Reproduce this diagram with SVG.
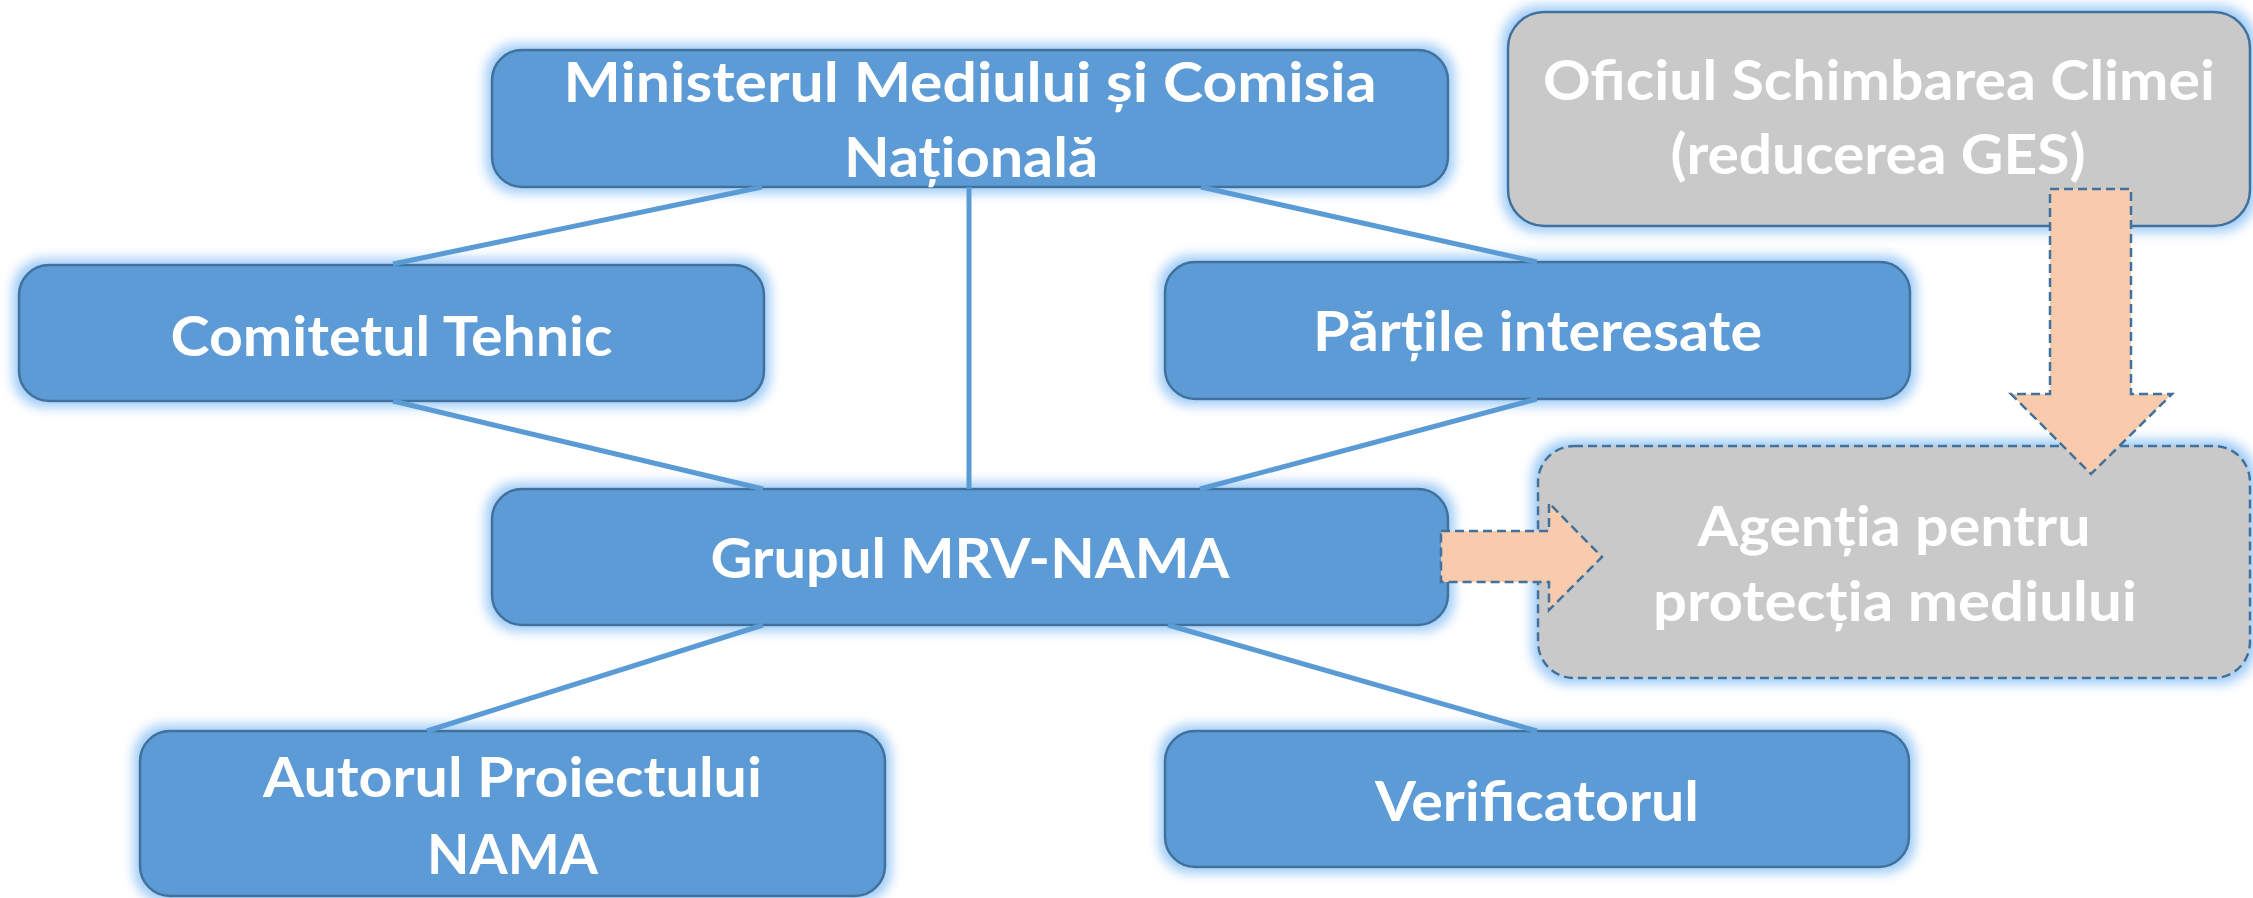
<svg xmlns="http://www.w3.org/2000/svg" width="2253" height="898" viewBox="0 0 2253 898">
<style>
.box{fill:#5B9BD5;stroke:#41719C;stroke-width:2.5;filter:url(#glow)}
.gray{fill:#C9C9C9;stroke:#41719C;stroke-width:2.5;filter:url(#glow)}
.dash{stroke-dasharray:9 5}
.t{font-family:Lato,"Open Sans","Liberation Sans",sans-serif;font-weight:bold;font-size:56px;fill:#FFFFFF;text-anchor:middle}
.ln{stroke:#5B9BD5;stroke-width:5;fill:none}
.arr{fill:#F8CBAD;stroke:#41719C;stroke-width:2.5;stroke-dasharray:9 5}
</style>
<defs>
<filter id="glow" x="-10%" y="-20%" width="120%" height="140%">
<feMorphology in="SourceAlpha" operator="dilate" radius="5" result="d"/>
<feGaussianBlur in="d" stdDeviation="6" result="b"/>
<feFlood flood-color="#9ECBF7"/>
<feComposite in2="b" operator="in" result="g"/>
<feMerge><feMergeNode in="g"/><feMergeNode in="SourceGraphic"/></feMerge>
</filter>
</defs>
<rect width="2253" height="898" fill="#FFFFFF"/>
<g id="ministerul">
<rect class="box" x="492" y="50" width="956" height="137" rx="30"/>
<text class="t" x="970" y="102" textLength="813" lengthAdjust="spacingAndGlyphs">Ministerul Mediului și Comisia</text>
<text class="t" x="971" y="177" textLength="254" lengthAdjust="spacingAndGlyphs">Națională</text>
</g>
<g id="oficiul">
<rect class="gray" x="1508" y="12" width="742" height="214" rx="36"/>
<text class="t" x="1879" y="100" textLength="672" lengthAdjust="spacingAndGlyphs">Oficiul Schimbarea Climei</text>
<text class="t" x="1878" y="174" textLength="415" lengthAdjust="spacingAndGlyphs">(reducerea GES)</text>
</g>
<g id="comitetul">
<rect class="box" x="19" y="265" width="745" height="136" rx="30"/>
<text class="t" x="391.5" y="356" textLength="442" lengthAdjust="spacingAndGlyphs">Comitetul Tehnic</text>
</g>
<g id="partile">
<rect class="box" x="1165" y="262" width="745" height="137" rx="30"/>
<text class="t" x="1537.5" y="351" textLength="449" lengthAdjust="spacingAndGlyphs">Părțile interesate</text>
</g>
<g id="grupul">
<rect class="box" x="492" y="489" width="956" height="136" rx="30"/>
<text class="t" x="970" y="578" textLength="519" lengthAdjust="spacingAndGlyphs">Grupul MRV-NAMA</text>
</g>
<g id="agentia">
<rect class="gray dash" x="1538" y="446" width="712" height="232" rx="36"/>
<text class="t" x="1894" y="546" textLength="393" lengthAdjust="spacingAndGlyphs">Agenția pentru</text>
<text class="t" x="1895" y="621" textLength="484" lengthAdjust="spacingAndGlyphs">protecția mediului</text>
</g>
<g id="autorul">
<rect class="box" x="140" y="731" width="745" height="165" rx="30"/>
<text class="t" x="512.5" y="797" textLength="499" lengthAdjust="spacingAndGlyphs">Autorul Proiectului</text>
<text class="t" x="512.5" y="874" textLength="171" lengthAdjust="spacingAndGlyphs">NAMA</text>
</g>
<g id="verificatorul">
<rect class="box" x="1165" y="731" width="744" height="136" rx="30"/>
<text class="t" x="1537" y="821" textLength="324" lengthAdjust="spacingAndGlyphs">Verificatorul</text>
</g>
<g id="connectors">
<line class="ln" x1="762" y1="187" x2="393" y2="264"/>
<line class="ln" x1="969" y1="187" x2="969" y2="489"/>
<line class="ln" x1="1201" y1="187" x2="1537" y2="262"/>
<line class="ln" x1="393" y1="401" x2="763" y2="489"/>
<line class="ln" x1="1537" y1="399" x2="1200" y2="489"/>
<line class="ln" x1="763" y1="625" x2="427" y2="731"/>
<line class="ln" x1="1168" y1="625" x2="1537" y2="731"/>
<polygon class="arr" points="2050,189 2131,189 2131,394 2172,394 2091,474 2011,394 2050,394"/>
<polygon class="arr" points="1441,531 1549,531 1549,503 1602,557 1549,610 1549,582 1441,582"/>
</g>
</svg>
